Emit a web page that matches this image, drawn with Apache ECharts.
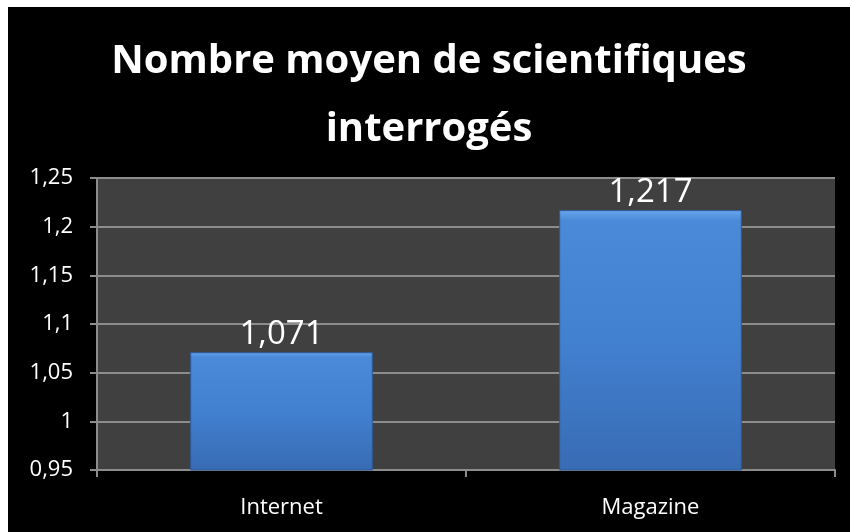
<!DOCTYPE html>
<html>
<head>
<meta charset="utf-8">
<script src="https://cdn.jsdelivr.net/npm/echarts@6/dist/echarts.min.js"></script>
<style>
  html, body { margin: 0; padding: 0; background: #fff; }
  #main { position: absolute; left: 8px; top: 7px; width: 842px; height: 525px; background: #000; }
</style>
</head>
<body>
<div id="main"></div>
<script>
// données
const categories = ['Internet', 'Magazine']
const moyennes = [1.071, 1.217]
const yMin = 0.95
const yMax = 1.25
const yStep = 0.05

const virgule = v => String(v).replace('.', ',')

var myChart = echarts.init(document.querySelector('#main'))
option = {
  backgroundColor: '#000',
  title: {
    text: 'Nombre moyen de scientifiques\ninterrogés',
    left: 'center',
    top: 16,
    textStyle: {
      color: '#fff',
      fontFamily: 'Open Sans',
      fontWeight: 'bold',
      fontSize: 40,
      lineHeight: 68
    }
  },
  grid: {
    left: 89,
    right: 15,
    top: 171,
    bottom: 62,
    show: true,
    backgroundColor: '#404040',
    borderWidth: 0
  },
  xAxis: {
    type: 'category',
    data: categories,
    axisLine: { lineStyle: { color: '#8c8c8c', width: 2 } },
    axisTick: { show: true, length: 7, lineStyle: { color: '#8c8c8c', width: 2 } },
    axisLabel: { color: '#fff', fontSize: 22, fontFamily: 'Open Sans', margin: 27 }
  },
  yAxis: {
    type: 'value',
    min: yMin,
    max: yMax,
    interval: yStep,
    axisLine: { show: true, lineStyle: { color: '#8c8c8c', width: 2 } },
    axisTick: { show: true, length: 7, lineStyle: { color: '#8c8c8c', width: 2 } },
    splitLine: { lineStyle: { color: '#8c8c8c', width: 2 } },
    axisLabel: {
      color: '#fff',
      fontSize: 22,
      fontFamily: 'Open Sans',
      margin: 24,
      formatter: v => virgule(Number(v.toFixed(2)))
    }
  },
  series: [
    {
      type: 'bar',
      data: moyennes,
      barWidth: '49.5%',
      itemStyle: {
        borderColor: '#2d5a99',
        borderWidth: 1,
        color: {
          type: 'linear',
          x: 0, y: 0, x2: 0, y2: 1,
          colorStops: [
            { offset: 0, color: '#6aa6ee' },
            { offset: 0.04, color: '#4a8ad8' },
            { offset: 0.5, color: '#4280d0' },
            { offset: 1, color: '#386cb4' }
          ]
        }
      },
      label: {
        show: true,
        position: 'top',
        distance: 1,
        color: '#fff',
        fontSize: 33,
        fontFamily: 'Open Sans',
        formatter: p => virgule(p.value)
      }
    }
  ]
}
myChart.setOption(option)
</script>
</body>
</html>
